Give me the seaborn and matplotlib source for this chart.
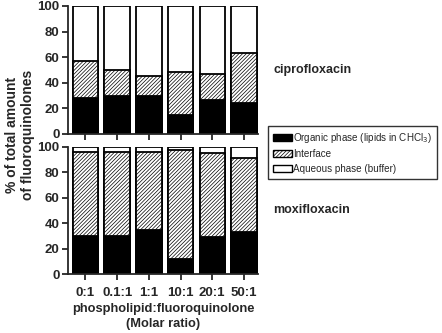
import numpy as np
import pandas as pd
import seaborn as sns
import matplotlib.pyplot as plt
from matplotlib.patches import Patch

sns.set_style('ticks')
plt.rcParams['font.family'] = ['Liberation Sans', 'DejaVu Sans']
plt.rcParams['hatch.linewidth'] = 0.5

ratios = ['0:1', '0.1:1', '1:1', '10:1', '20:1', '50:1']

# % of total amount in each phase
cipro_organic = [28, 29.5, 29.5, 14.5, 26, 24]
cipro_interface = [28.5, 20.5, 16, 33.5, 21, 39]
moxi_organic = [30, 30, 34.5, 12, 29, 33]
moxi_interface = [66, 66, 61.5, 85, 66, 58]

fig = plt.figure(figsize=(4.42, 3.33), dpi=100)
ax1 = fig.add_axes([0.154, 0.599, 0.43, 0.383])
ax2 = fig.add_axes([0.154, 0.177, 0.43, 0.383])


def stacked(ax, organic, interface, name):
    df = pd.DataFrame({'ratio': ratios, 'organic': organic, 'interface': interface})
    df['aqueous'] = 100 - df['organic'] - df['interface']
    df['top'] = df['organic'] + df['interface']
    df['total'] = df['top'] + df['aqueous']
    sns.barplot(data=df, x='ratio', y='total', color='white', edgecolor='black',
                linewidth=1.3, width=0.8, saturation=1, ax=ax)
    sns.barplot(data=df, x='ratio', y='top', color='white', edgecolor='black',
                hatch='/////////', linewidth=1.3, width=0.8, saturation=1, ax=ax)
    sns.barplot(data=df, x='ratio', y='organic', color='black', edgecolor='black',
                linewidth=1.3, width=0.8, saturation=1, ax=ax)
    ax.set_ylim(0, 100)
    ax.set_xlim(-0.55, 5.45)
    ax.set_yticks([0, 20, 40, 60, 80, 100])
    ax.set_xlabel('')
    ax.set_ylabel('')
    sns.despine(ax=ax, top=True, right=True)
    ax.spines['left'].set_linewidth(1.3)
    ax.spines['bottom'].set_linewidth(1.3)
    ax.tick_params(axis='both', length=4, width=1.3, labelsize=9.5, pad=2)
    ax.tick_params(axis='x', pad=5)
    for lab in ax.get_yticklabels() + ax.get_xticklabels():
        lab.set_fontweight('bold')
    ax.text(1.079, 0.5, name, transform=ax.transAxes, fontsize=9,
            fontweight='bold', va='center', ha='left')


stacked(ax1, cipro_organic, cipro_interface, 'ciprofloxacin')
stacked(ax2, moxi_organic, moxi_interface, 'moxifloxacin')
ax1.set_xticklabels([])

ax2.set_xlabel('phospholipid:fluoroquinolone\n(Molar ratio)', fontsize=9.3,
               fontweight='bold', labelpad=3, linespacing=1.35)
fig.text(0.045, 0.595, '% of total amount\nof fluoroquinolones', rotation=90,
         fontsize=10, fontweight='bold', ha='center', va='center')

handles = [
    Patch(facecolor='black', edgecolor='black', label='Organic phase (lipids in CHCl$_3$)'),
    Patch(facecolor='white', edgecolor='black', hatch='/////////', label='Interface'),
    Patch(facecolor='white', edgecolor='black', label='Aqueous phase (buffer)'),
]
fig.legend(handles=handles, loc='upper left', bbox_to_anchor=(0.606, 0.622),
           fontsize=7.1, frameon=True, fancybox=False, edgecolor='black',
           handlelength=1.9, handleheight=0.75, handletextpad=0.15,
           labelspacing=0.45, borderpad=0.5, borderaxespad=0)

fig.savefig('out.png', dpi=100)
